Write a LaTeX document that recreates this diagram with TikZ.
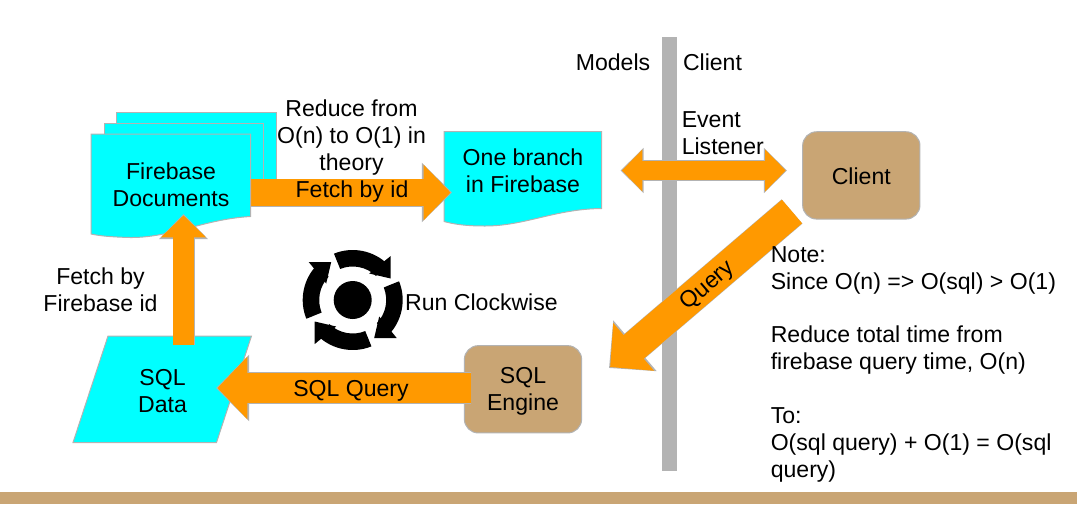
\documentclass[tikz,border=0pt]{standalone}
\usepackage{fontspec}
\setmainfont{Liberation Sans}
\usetikzlibrary{arrows.meta,calc}
\definecolor{cyanfill}{HTML}{00FFFF}
\definecolor{orangefill}{HTML}{FF9900}
\definecolor{tanfill}{HTML}{C9A574}
\definecolor{edgegray}{HTML}{B3B3B3}
\tikzset{
  lbl/.style={font=\fontsize{17.3}{20.25}\selectfont,align=center,inner sep=0pt,text=black},
  note/.style={font=\fontsize{17.3}{20.25}\selectfont,align=left,inner sep=0pt,text=black},
  docshape/.style={fill=cyanfill,draw=edgegray,line width=0.75pt},
  enginebox/.style={fill=tanfill,draw=edgegray,line width=0.75pt,rounded corners=10.5pt,minimum width=88pt,minimum height=65.5pt,inner sep=0pt},
  iconfill/.style={fill=black,draw=none}
}
% from, to, shaft width, head length, head width (in picture px)
\newcommand{\blockarrow}[5]{%
  \draw[edgegray,line width=#3*0.75pt+0.75pt,-{Triangle[length=#4*0.75pt+2.4pt,width=#5*0.75pt+2.8pt]}] (#1) -- (#2);
  \draw[orangefill,line width=#3*0.75pt,-{Triangle[length=#4*0.75pt,width=#5*0.75pt]},shorten >=1.1pt] (#1) -- (#2);
}
\begin{document}
\begin{tikzpicture}[x=0.75pt,y=-0.75pt]
\useasboundingbox (0,0) rectangle (1077,504);
% bottom band and divider
\fill[tanfill] (0,492) rectangle (1077,504);
\fill[edgegray] (662,37) rectangle (676.5,471);
% stacked documents
\draw[docshape] (116.5,112.5) -- (276,112.5) -- (276,205) -- (116.5,205) -- cycle;
\draw[docshape] (104,123.5) -- (263,123.5) -- (263,206.5) -- (104,206.5) -- cycle;
% one branch
\draw[docshape] (444,131.5) -- (601.5,131.5) -- (601.5,208.5)
  .. controls (555,209) and (525,226) .. (485,226)
  .. controls (467,226) and (455,224.5) .. (444,221.5) -- cycle;
\node[lbl] (branch) at (523,171) {One branch\\in Firebase};
% fetch by id arrow
\coordinate (fetchA) at (250,192.5);
\coordinate (fetchB) at (452,192.5);
\blockarrow{fetchA}{fetchB}{27}{27}{54}
\draw[docshape] (91,134) -- (250.5,134) -- (250.5,216.5)
  .. controls (205,219) and (170,238) .. (130,237.5)
  .. controls (112,237) and (100,236) .. (91,234) -- cycle;
\node[lbl] (firebase) at (171,184.7) {Firebase\\Documents};
\node[lbl] (fetchlbl) at (352,191.5) {Fetch by id};
\node[lbl] (reduce) at (351.5,138) {Reduce from\\O(n) to O(1) in\\theory};
% SQL data
\draw[docshape] (108,336) -- (251.5,336) -- (216.5,442.5) -- (73,442.5) -- cycle;
\node[lbl] (sqldata) at (162.5,391) {SQL\\Data};
% up arrow
\coordinate (upA) at (183.5,345);
\coordinate (upB) at (183.5,214);
\blockarrow{upA}{upB}{21}{22}{44}
\node[lbl] (fetchfb) at (100.5,290.2) {Fetch by\\Firebase id};
% SQL query arrow and engine
\node[enginebox] (engine) at (523,389.3) {};
\node[lbl] (enginelbl) at (523,391.8) {SQL\\Engine};
\coordinate (sqlA) at (471,388);
\coordinate (sqlB) at (216,388);
\blockarrow{sqlA}{sqlB}{30.5}{30}{61}
\node[lbl] (sqllbl) at (351,390.5) {SQL Query};
% client
\node[enginebox] (client) at (861.3,175.4) {};
\node[lbl] (clientbox) at (861.3,176.2) {Client};
\coordinate (evA) at (620.5,170.5);
\coordinate (evB) at (787,170.5);
\draw[edgegray,line width=15.4pt,{Triangle[length=17.4pt,width=33pt]}-{Triangle[length=17.4pt,width=33pt]}] (evA) -- (evB);
\draw[orangefill,line width=14.6pt,{Triangle[length=15.4pt,width=30.5pt]}-{Triangle[length=15.4pt,width=30.5pt]},shorten >=1pt,shorten <=1pt] (evA) -- (evB);
\node[lbl,align=left,anchor=west] (event) at (681.5,133.2) {Event\\Listener};
% query arrow
\coordinate (qA) at (792,211.5);
\coordinate (qB) at (609,368);
\blockarrow{qA}{qB}{31}{31}{61}
\node[lbl,rotate=40.6] (query) at (708,286) {Query};
% headings
\node[lbl] (models) at (613,62.3) {Models};
\node[lbl] (clientlbl) at (712.5,62.3) {Client};
\node[lbl] (run) at (481.5,302.3) {Run Clockwise};
\node[note,anchor=north west] (notes) at (770.5,246) {Note:\\Since O(n) => O(sql) > O(1)\\[20pt]Reduce total time from\\firebase query time, O(n)\\[20pt]To:\\O(sql query) + O(1) = O(sql\\query)};
% cycle icon
\begin{scope}[shift={(352.7,300)},x=0.75pt,y=0.75pt]
\fill[iconfill] (0,0) circle (19);
\foreach \r in {0,-90,-180,-270}{
  \begin{scope}[rotate=\r]
  \fill[iconfill] (112:50) arc (112:46:50) -- (46:33.5) arc (46:112:33.5) -- cycle;
  \fill[iconfill] (38,44) -- (38,21.5) -- (16.5,26.5) -- cycle;
  \end{scope}
}
\end{scope}
\end{tikzpicture}
\end{document}
